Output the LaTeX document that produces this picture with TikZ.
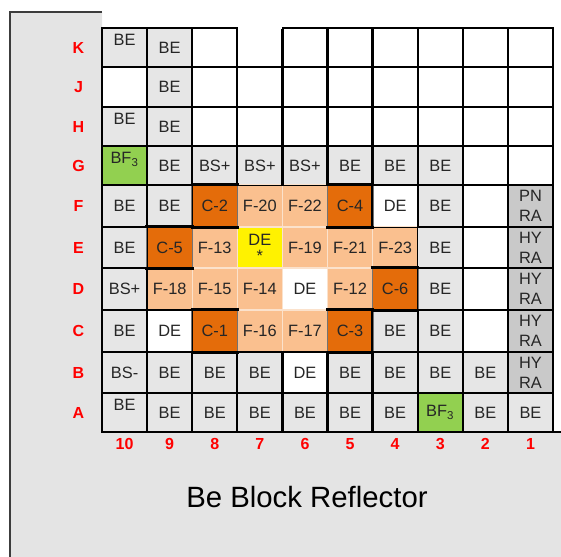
\documentclass[tikz,border=0pt]{standalone}
\usepackage{fontspec}
\setmainfont{Liberation Sans}
\usepackage{xcolor}
\usepackage{tikz}
\usetikzlibrary{positioning,calc}
\definecolor{fondo}{RGB}{228,228,228}
\definecolor{celdagris}{RGB}{230,230,230}
\definecolor{radialgris}{RGB}{201,201,201}
\definecolor{verdebf}{RGB}{146,208,80}
\definecolor{barra}{RGB}{228,108,10}
\definecolor{combustible}{RGB}{250,192,143}
\definecolor{bordeclaro}{RGB}{251,226,204}
\definecolor{rojo}{RGB}{255,0,0}
\definecolor{marco}{RGB}{60,60,60}

% contenido de cada fila: columna/estilo/texto (de 10 a 1)
\newcommand{\filaK}{10/grisalto/BE, 9/gris/BE, 8/blanco/{}, 7/blanco/{}, 6/blanco/{}, 5/blanco/{}, 4/blanco/{}, 3/blanco/{}, 2/blanco/{}, 1/blanco/{}}
\newcommand{\filaJ}{10/blanco/{}, 9/gris/BE, 8/blanco/{}, 7/blanco/{}, 6/blanco/{}, 5/blanco/{}, 4/blanco/{}, 3/blanco/{}, 2/blanco/{}, 1/blanco/{}}
\newcommand{\filaH}{10/grisalto/BE, 9/gris/BE, 8/blanco/{}, 7/blanco/{}, 6/blanco/{}, 5/blanco/{}, 4/blanco/{}, 3/blanco/{}, 2/blanco/{}, 1/blanco/{}}
\newcommand{\filaG}{10/verdealto/BF\textsubscript{3}, 9/gris/BE, 8/gris/BS+, 7/gris/BS+, 6/gris/BS+, 5/gris/BE, 4/gris/BE, 3/gris/BE, 2/blanco/{}, 1/blanco/{}}
\newcommand{\filaF}{10/gris/BE, 9/gris/BE, 8/control/C-2, 7/naranja/F-20, 6/naranja/F-22, 5/control/C-4, 4/blanco/DE, 3/gris/BE, 2/blanco/{}, 1/radial/PN\\RA}
\newcommand{\filaE}{10/gris/BE, 9/control/C-5, 8/naranja/F-13, 7/amarillo/DE\\[-3pt]*, 6/naranja/F-19, 5/naranja/F-21, 4/naranja/F-23, 3/gris/BE, 2/blanco/{}, 1/radial/HY\\RA}
\newcommand{\filaD}{10/gris/BS+, 9/naranja/F-18, 8/naranja/F-15, 7/naranja/F-14, 6/nucleo/DE, 5/naranja/F-12, 4/control/C-6, 3/gris/BE, 2/blanco/{}, 1/radial/HY\\RA}
\newcommand{\filaC}{10/gris/BE, 9/blanco/DE, 8/control/C-1, 7/naranja/F-16, 6/naranja/F-17, 5/control/C-3, 4/gris/BE, 3/gris/BE, 2/blanco/{}, 1/radial/HY\\RA}
\newcommand{\filaB}{10/gris/BS-, 9/gris/BE, 8/gris/BE, 7/gris/BE, 6/blanco/DE, 5/gris/BE, 4/gris/BE, 3/gris/BE, 2/gris/BE, 1/radial/HY\\RA}
\newcommand{\filaA}{10/grisalto/BE, 9/gris/BE, 8/gris/BE, 7/gris/BE, 6/gris/BE, 5/gris/BE, 4/gris/BE, 3/verde/BF\textsubscript{3}, 2/gris/BE, 1/gris/BE}

\begin{document}
\begin{tikzpicture}[x=0.75pt,y=-0.75pt,
    celda/.style={inner sep=0pt,minimum width=33.8pt,align=center,text=black!85,
      font=\fontsize{12.3}{15}\selectfont,line width=0.9pt},
    gris/.style={celda,fill=celdagris,draw=black},
    grisalto/.style={gris,text depth=11pt},
    blanco/.style={celda,fill=white,draw=black},
    verde/.style={celda,fill=verdebf,draw=black},
    verdealto/.style={verde,text depth=11pt},
    radial/.style={celda,fill=radialgris,draw=black},
    naranja/.style={celda,fill=combustible,draw=bordeclaro},
    amarillo/.style={celda,fill=yellow,draw=bordeclaro},
    nucleo/.style={celda,fill=white,draw=bordeclaro},
    control/.style={celda,fill=barra,draw=bordeclaro},
    gris-b/.style={draw=black,line width=0.9pt},
    grisalto-b/.style={gris-b},
    blanco-b/.style={gris-b},
    verde-b/.style={gris-b},
    verdealto-b/.style={gris-b},
    radial-b/.style={gris-b},
    naranja-b/.style={draw=none},
    amarillo-b/.style={draw=none},
    nucleo-b/.style={draw=none},
    control-b/.style={draw=black!55,line width=0.6pt},
    tapa/.style={line width=2.2pt,black},
    etiqueta/.style={text=rojo,font=\fontsize{12}{14}\selectfont\bfseries},
    titulo/.style={font=\fontsize{22}{26}\selectfont}]
  \useasboundingbox (0,0) rectangle (561,557);
  % fondo gris del bloque
  \fill[fondo] (10,557) -- (10,12) -- (102,12) -- (102,432) -- (561,432) -- (561,557) -- cycle;
  \draw[marco,line width=1.5pt] (10,557) -- (10,12) -- (102,12);
  \draw[black,line width=0.9pt] (550,432) -- (561,432);
  % celdas
  \foreach \r/\ya/\yb in {K/28/67, J/67/107, H/107/146, G/146/185, F/185/227,
                          E/227/268, D/268/310, C/310/352, B/352/393, A/393/432}{
    \pgfmathsetmacro{\alto}{(\yb-\ya)*0.75}
    \pgfmathsetmacro{\yc}{(\ya+\yb)/2}
    \expandafter\let\expandafter\datos\csname fila\r\endcsname
    \foreach \c/\s/\t in \datos{
      \pgfmathsetmacro{\xc}{102+45.1*(10-\c)+22.55}
      \node[\s,minimum height=\alto pt] (\r-\c) at (\xc,\yc) {\t};
    }
  }
  % bordes negros encima
  \foreach \r in {K,J,H,G,F,E,D,C,B,A}{
    \expandafter\let\expandafter\datos\csname fila\r\endcsname
    \foreach \c/\s/\t in \datos{
      \draw[\s-b] (\r-\c.north west) rectangle (\r-\c.south east);
    }
  }
  \draw[white,line width=2pt] ([xshift=0.6pt]K-7.north west) -- ([xshift=-0.6pt]K-7.north east);
  % barras de control
  \foreach \n in {F-8,F-5,E-9,D-4,C-8,C-5}{
    \draw[tapa] ([xshift=-0.8pt]\n.north west) -- ([xshift=0.8pt]\n.north east)
                ([xshift=-0.8pt]\n.south west) -- ([xshift=0.8pt]\n.south east);
  }
  % etiquetas
  \foreach \r in {K,J,H,G,F,E,D,C,B,A}
    \node[etiqueta] (fila-\r) at ([xshift=-17.2pt]\r-10.west) {\r};
  \foreach \c in {10,...,1}
    \node[etiqueta] (col-\c) at ([yshift=-8.3pt]A-\c.south) {\c};
  \node[titulo] (titulo) at (307,497) {Be Block Reflector};
\end{tikzpicture}
\end{document}
